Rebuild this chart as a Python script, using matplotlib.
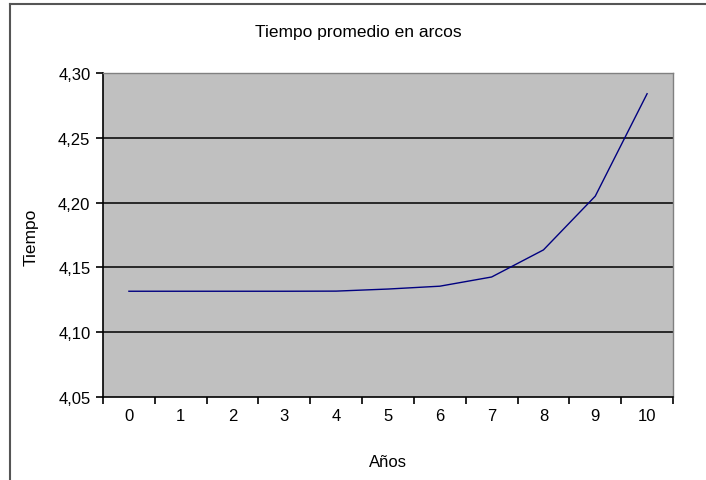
import numpy as np
import matplotlib.pyplot as plt
from matplotlib.lines import Line2D

plt.rcParams['font.family'] = ['Liberation Sans', 'DejaVu Sans']

# Average time per year
anios = [0, 1, 2, 3, 4, 5, 6, 7, 8, 9, 10]
tiempo = [4.1316, 4.1316, 4.1316, 4.1316, 4.1317, 4.1333, 4.1355, 4.1426, 4.1635, 4.2050, 4.2840]
y_ticks = [4.05, 4.10, 4.15, 4.20, 4.25, 4.30]

fig = plt.figure(figsize=(7.06, 4.81), dpi=100)
fig.patch.set_facecolor('white')

# outer frame of the chart area (top and left edges)
fig.add_artist(Line2D([10 / 706, 1.0], [1 - 5 / 481, 1 - 5 / 481], color='#555555', lw=1.5,
                      transform=fig.transFigure))
fig.add_artist(Line2D([10 / 706, 10 / 706], [0.0, 1 - 5 / 481], color='#555555', lw=1.5,
                      transform=fig.transFigure))

ax = fig.add_axes([103 / 706, 83 / 481, 570 / 706, 324 / 481])
ax.set_facecolor('#c0c0c0')

for y in y_ticks[1:-1]:
    ax.axhline(y, color='black', lw=1.1, zorder=1)

ax.plot(anios, tiempo, color='#000080', lw=1.0, zorder=3)

ax.set_xlim(-0.5, len(anios) - 0.5)
ax.set_ylim(y_ticks[0], y_ticks[-1])

# category boundaries carry the tick marks, labels sit between them
ax.set_xticks(np.arange(-0.5, len(anios), 1.0))
ax.set_xticklabels([])
ax.set_xticks(anios, minor=True)
ax.set_xticklabels([str(a) for a in anios], minor=True, fontsize=12)
ax.tick_params(axis='x', which='major', direction='out', length=5, width=1.2, color='black')
ax.tick_params(axis='x', which='minor', length=0, pad=8)

ax.set_yticks(y_ticks)
ax.set_yticklabels([f"{v:.2f}".replace('.', ',') for v in y_ticks], fontsize=12)
ax.tick_params(axis='y', direction='out', length=5, width=1.2, color='black', pad=4)

for side in ['left', 'bottom']:
    ax.spines[side].set_color('black')
    ax.spines[side].set_linewidth(1.2)
for side in ['top', 'right']:
    ax.spines[side].set_color('#808080')
    ax.spines[side].set_linewidth(1.0)

fig.text(358 / 706, 1 - 32 / 481, 'Tiempo promedio en arcos', ha='center', va='center', fontsize=12.5)
fig.text(388 / 706, 1 - 463 / 481, 'Años', ha='center', va='center', fontsize=12)
fig.text(31 / 706, 1 - 237 / 481, 'Tiempo', ha='center', va='center', rotation=90, fontsize=12.5)

fig.savefig('out.png', dpi=100, facecolor='white')
